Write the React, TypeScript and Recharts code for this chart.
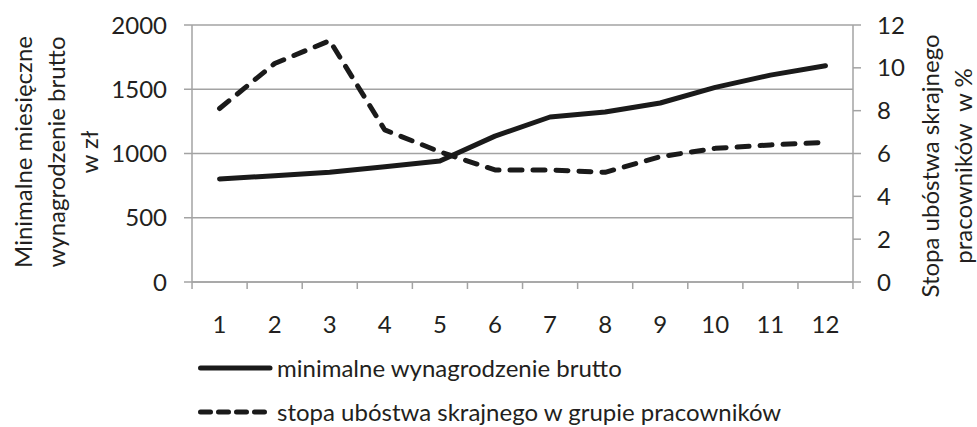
import { CartesianGrid, Legend, Line, LineChart, XAxis, YAxis } from 'recharts';

const months = [1, 2, 3, 4, 5, 6, 7, 8, 9, 10, 11, 12];
const minWage = [802, 827, 854, 897, 942, 1135, 1284, 1323, 1393, 1515, 1610, 1683];
const povertyRate = [8.1, 10.2, 11.27, 7.1, 6.08, 5.23, 5.23, 5.12, 5.85, 6.24, 6.4, 6.52];
const wageTicks = [0, 500, 1000, 1500, 2000];
const rateTicks = [0, 2, 4, 6, 8, 10, 12];

const leftTitle = ['Minimalne miesięczne', 'wynagrodzenie brutto', 'w zł'];
const rightTitle = ['Stopa ubóstwa skrajnego', 'pracowników  w %'];
const wageName = 'minimalne wynagrodzenie brutto';
const rateName = 'stopa ubóstwa skrajnego w grupie pracowników';

const data = months.map((m, i) => ({
  month: m,
  wage: minWage[i],
  rate: povertyRate[i],
}));

const FONT = 'Lato, "Open Sans", sans-serif';
const FONT_SIZE = 24;
const TEXT = '#231f20';
const GRID = '#a3a3a3';
const INK = '#1a1a1a';
const HALF_BAND = 27.5;

// labels sit in the middle of each month, tick marks on the boundaries (Excel style)
function MonthTick({ x, y, payload, index }: any) {
  const last = index === months.length - 1;
  return (
    <g>
      <line x1={x - HALF_BAND} x2={x - HALF_BAND} y1={y - 8} y2={y - 1} stroke={GRID} strokeWidth={1.5} />
      {last && (
        <line x1={x + HALF_BAND} x2={x + HALF_BAND} y1={y - 8} y2={y - 1} stroke={GRID} strokeWidth={1.5} />
      )}
      <text x={x} y={y + 43} textAnchor="middle" fontSize={FONT_SIZE} fontFamily={FONT} fill={TEXT}>
        {payload.value}
      </text>
    </g>
  );
}

function AxisTitle({ viewBox, lines, xs, cy }: any) {
  return (
    <g>
      {lines.map((line: string, i: number) => {
        const x = viewBox.x + xs[i];
        return (
          <text
            key={line}
            x={x}
            y={cy}
            transform={`rotate(-90, ${x}, ${cy})`}
            textAnchor="middle"
            dominantBaseline="central"
            fontSize={FONT_SIZE}
            fontFamily={FONT}
            fill={TEXT}
            style={{ whiteSpace: 'pre' }}
          >
            {line}
          </text>
        );
      })}
    </g>
  );
}

function ChartLegend() {
  const rows = [
    { name: wageName, dash: undefined },
    { name: rateName, dash: '10 8' },
  ];
  return (
    <div style={{ fontFamily: FONT, fontSize: FONT_SIZE, color: TEXT }}>
      {rows.map((r) => (
        <div key={r.name} style={{ display: 'flex', alignItems: 'center', height: 44 }}>
          <svg width={79} height={10} style={{ display: 'block', flex: 'none' }}>
            <line
              x1={2.5}
              x2={72}
              y1={5}
              y2={5}
              stroke={INK}
              strokeWidth={5}
              strokeLinecap="round"
              strokeDasharray={r.dash}
            />
          </svg>
          <span style={{ lineHeight: '24px', whiteSpace: 'nowrap' }}>{r.name}</span>
        </div>
      ))}
    </div>
  );
}

export default function App() {
  return (
    <div style={{ position: 'absolute', left: 0, top: 0, width: 977, height: 427, background: '#fff' }}>
      <LineChart width={977} height={427} data={data} margin={{ top: 25, right: 0, bottom: 0, left: 0 }}>
        <CartesianGrid yAxisId="left" vertical={false} stroke={GRID} strokeWidth={1.5} />
        <XAxis
          dataKey="month"
          type="number"
          domain={[0.5, 12.5]}
          ticks={months}
          height={145}
          tickLine={false}
          axisLine={{ stroke: GRID, strokeWidth: 1.5 }}
          tick={<MonthTick />}
          interval={0}
        />
        <YAxis
          yAxisId="left"
          width={192}
          domain={[0, 2000]}
          ticks={wageTicks}
          tickSize={8}
          tickMargin={17}
          tickLine={{ stroke: GRID, strokeWidth: 1.5 }}
          axisLine={{ stroke: GRID, strokeWidth: 1.5 }}
          tick={{ fontSize: FONT_SIZE, fontFamily: FONT, fill: TEXT }}
          label={{
            content: (p: any) => (
              <AxisTitle viewBox={p.viewBox} lines={leftTitle} xs={[22, 55, 88]} cy={152} />
            ),
          }}
        />
        <YAxis
          yAxisId="right"
          orientation="right"
          width={124}
          domain={[0, 12]}
          ticks={rateTicks}
          tickSize={8}
          tickMargin={16}
          tickLine={{ stroke: GRID, strokeWidth: 1.5 }}
          axisLine={{ stroke: GRID, strokeWidth: 1.5 }}
          tick={{ fontSize: FONT_SIZE, fontFamily: FONT, fill: TEXT }}
          label={{
            content: (p: any) => (
              <AxisTitle viewBox={p.viewBox} lines={rightTitle} xs={[76, 109]} cy={166} />
            ),
          }}
        />
        <Legend
          layout="vertical"
          align="center"
          verticalAlign="middle"
          content={<ChartLegend />}
          wrapperStyle={{ left: 198, top: 346, width: 700, height: 80 }}
        />
        <Line
          yAxisId="left"
          dataKey="wage"
          name={wageName}
          stroke={INK}
          strokeWidth={5}
          strokeLinecap="round"
          strokeLinejoin="round"
          dot={false}
          activeDot={false}
          isAnimationActive={false}
        />
        <Line
          yAxisId="right"
          dataKey="rate"
          name={rateName}
          stroke={INK}
          strokeWidth={5}
          strokeLinecap="round"
          strokeLinejoin="round"
          strokeDasharray="12 11"
          dot={false}
          activeDot={false}
          isAnimationActive={false}
        />
      </LineChart>
    </div>
  );
}
